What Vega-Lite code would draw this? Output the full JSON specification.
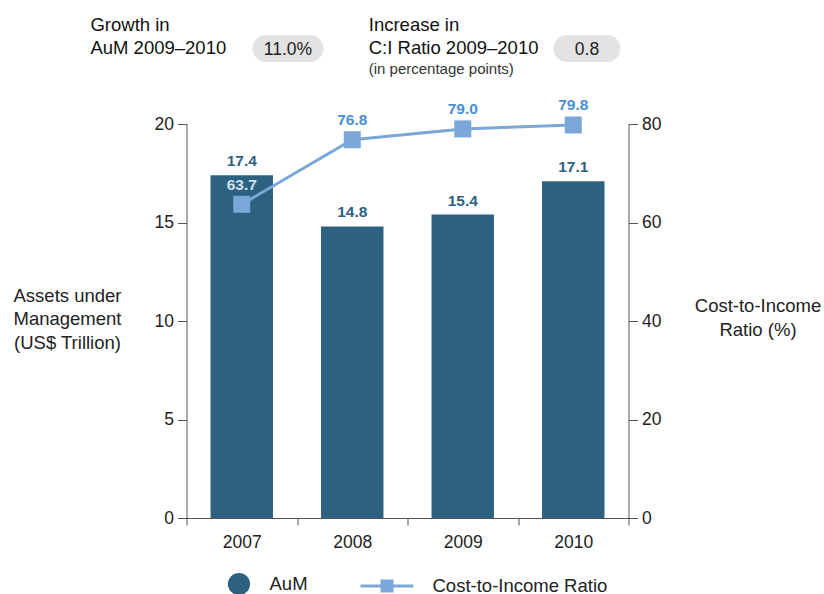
{
  "$schema": "https://vega.github.io/schema/vega-lite/v6.json",
  "padding": {"left": 12.5, "top": 15, "right": 0, "bottom": 0},
  "config": {
    "font": "Liberation Sans",
    "view": {"stroke": null},
    "text": {"font": "Liberation Sans"}
  },
  "spacing": 21,
  "resolve": {
    "scale": {"x": "independent", "y": "independent", "fill": "independent", "stroke": "independent"},
    "legend": {"fill": "independent", "stroke": "independent"}
  },
  "vconcat": [
    {
      "width": 442,
      "height": 27,
      "data": {"values": [
        {"metric": "Growth in AuM 2009–2010", "label": "Growth in\nAuM 2009–2010", "value": "11.0%"},
        {"metric": "Increase in C:I Ratio 2009–2010", "label": "Increase in\nC:I Ratio 2009–2010", "value": "0.8", "note": "(in percentage points)"}
      ]},
      "encoding": {
        "x": {"field": "metric", "type": "nominal", "sort": null, "axis": null,
              "scale": {"type": "band", "paddingInner": 0.9, "paddingOuter": 0.1891, "align": 0.7648}}
      },
      "layer": [
        {
          "transform": [{"filter": "datum.metric == 'Growth in AuM 2009–2010'"}],
          "mark": {"type": "point", "filled": true, "opacity": 1, "color": "#e3e3e3", "strokeWidth": 0,
                   "shape": "M-0.6197,-0.3803H0.6197A0.3803,0.3803 0 0 1 0.6197,0.3803H-0.6197A0.3803,0.3803 0 0 1 -0.6197,-0.3803Z",
                   "size": 5041}
        },
        {
          "transform": [{"filter": "datum.metric == 'Increase in C:I Ratio 2009–2010'"}],
          "mark": {"type": "point", "filled": true, "opacity": 1, "color": "#e3e3e3", "strokeWidth": 0,
                   "shape": "M-0.597,-0.403H0.597A0.403,0.403 0 0 1 0.597,0.403H-0.597A0.403,0.403 0 0 1 -0.597,-0.403Z",
                   "size": 4489}
        },
        {
          "mark": {"type": "text", "align": "center", "baseline": "alphabetic", "dy": 6.5, "fontSize": 17.5, "color": "#222"},
          "encoding": {"text": {"field": "value", "type": "nominal"}}
        },
        {
          "transform": [{"filter": "datum.metric == 'Growth in AuM 2009–2010'"}],
          "mark": {"type": "text", "align": "left", "baseline": "alphabetic", "lineBreak": "\n", "lineHeight": 23.5,
                   "dx": -197.5, "dy": -18, "fontSize": 18.5, "color": "#111"},
          "encoding": {"text": {"field": "label", "type": "nominal"}}
        },
        {
          "transform": [{"filter": "datum.metric == 'Increase in C:I Ratio 2009–2010'"}],
          "mark": {"type": "text", "align": "left", "baseline": "alphabetic", "lineBreak": "\n", "lineHeight": 23.5,
                   "dx": -218.2, "dy": -18, "fontSize": 18.5, "color": "#111"},
          "encoding": {"text": {"field": "label", "type": "nominal"}}
        },
        {
          "transform": [{"filter": "isValid(datum.note)"}],
          "mark": {"type": "text", "align": "left", "baseline": "alphabetic", "dx": -218.2, "dy": 25.5, "fontSize": 15, "color": "#333"},
          "encoding": {"text": {"field": "note", "type": "nominal"}}
        }
      ]
    },
    {
      "width": 442,
      "height": 394,
      "data": {"values": [
        {"year": "2007", "aum": 17.4, "ratio": 63.7},
        {"year": "2008", "aum": 14.8, "ratio": 76.8},
        {"year": "2009", "aum": 15.4, "ratio": 79.0},
        {"year": "2010", "aum": 17.1, "ratio": 79.8}
      ]},
      "encoding": {
        "x": {"field": "year", "type": "nominal", "sort": null,
              "scale": {"type": "band", "paddingInner": 0, "paddingOuter": 0},
              "axis": {"title": null, "labelAngle": 0, "tickBand": "extent", "labelFontSize": 17.5, "labelColor": "#222",
                       "tickSize": 7, "labelPadding": 8, "domainColor": "#555", "tickColor": "#555", "domainWidth": 1, "tickWidth": 1}}
      },
      "resolve": {"scale": {"y": "independent"}},
      "layer": [
        {
          "layer": [
            {
              "mark": {"type": "bar", "width": {"band": 0.565}},
              "encoding": {
                "y": {"field": "aum", "type": "quantitative", "scale": {"domain": [0, 20]},
                      "axis": {"orient": "left", "values": [0, 5, 10, 15, 20], "grid": false,
                               "title": ["Assets under", "Management", "(US$ Trillion)"],
                               "titleAngle": 0, "titleAlign": "center", "titleBaseline": "middle",
                               "titleX": -119.5, "titleY": 171, "titleFontSize": 18.5, "titleFontWeight": "normal",
                               "titleColor": "#222", "titleLineHeight": 23.5,
                               "labelFontSize": 17.5, "labelColor": "#222", "tickSize": 9, "labelPadding": 4,
                               "domainColor": "#555", "tickColor": "#555"}},
                "fill": {"datum": "AuM", "type": "nominal", "scale": {"domain": ["AuM"], "range": ["#2c6280"]},
                         "legend": {"title": null, "orient": "none", "legendX": 41, "legendY": 448.5,
                                    "symbolType": "circle", "symbolSize": 491, "symbolStrokeWidth": 0,
                                    "labelFontSize": 18.5, "labelColor": "#222", "labelOffset": 19}}
              }
            },
            {
              "mark": {"type": "text", "baseline": "alphabetic", "dy": -9, "fontSize": 15.5, "fontWeight": "bold", "color": "#2c6280"},
              "encoding": {
                "y": {"field": "aum", "type": "quantitative"},
                "text": {"field": "aum", "type": "quantitative", "format": ".1f"}
              }
            }
          ]
        },
        {
          "layer": [
            {
              "mark": {"type": "line", "strokeWidth": 3},
              "encoding": {
                "y": {"field": "ratio", "type": "quantitative", "scale": {"domain": [0, 80]},
                      "axis": {"orient": "right", "values": [0, 20, 40, 60, 80], "grid": false,
                               "title": ["Cost-to-Income", "Ratio (%)"],
                               "titleAngle": 0, "titleAlign": "center", "titleBaseline": "middle",
                               "titleX": 129, "titleY": 181.5, "titleFontSize": 18.5, "titleFontWeight": "normal",
                               "titleColor": "#222", "titleLineHeight": 24,
                               "labelFontSize": 17.5, "labelColor": "#222", "tickSize": 9, "labelPadding": 4,
                               "domainColor": "#555", "tickColor": "#555"}},
                "stroke": {"datum": "Cost-to-Income Ratio", "type": "nominal",
                           "scale": {"domain": ["Cost-to-Income Ratio"], "range": ["#7aa7d8"]},
                           "legend": {"title": null, "orient": "none", "legendX": 174, "legendY": 435.5,
                                      "symbolType": "M-1,-0.057H1V0.057H-1Z M-0.245,-0.245H0.245V0.245H-0.245Z",
                                      "symbolSize": 2809, "symbolStrokeWidth": 0, "labelLimit": 400,
                                      "labelFontSize": 18.5, "labelColor": "#222", "labelOffset": 19,
                                      "encode": {"symbols": {"update": {"fill": {"value": "#7aa7d8"}, "stroke": {"value": "transparent"}}}}}}
              }
            },
            {
              "mark": {"type": "point", "shape": "square", "size": 289, "filled": true, "opacity": 1, "color": "#7aa7d8"},
              "encoding": {"y": {"field": "ratio", "type": "quantitative"}}
            },
            {
              "mark": {"type": "text", "baseline": "alphabetic", "dy": -14.5, "fontSize": 15.5, "fontWeight": "bold"},
              "encoding": {
                "y": {"field": "ratio", "type": "quantitative"},
                "text": {"field": "ratio", "type": "quantitative", "format": ".1f"},
                "color": {"condition": {"test": "datum.year == '2007'", "value": "#cfe0f2"}, "value": "#4a8fd3"}
              }
            }
          ]
        }
      ]
    }
  ]
}
